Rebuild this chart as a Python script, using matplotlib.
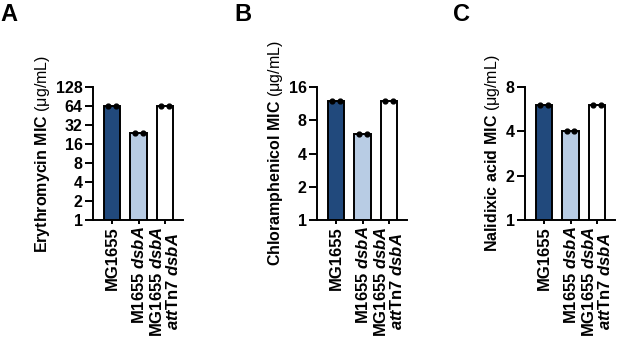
import matplotlib
matplotlib.use("Agg")
import matplotlib.pyplot as plt
import numpy as np

plt.rcParams['font.family'] = ['Liberation Sans', 'DejaVu Sans']
plt.rcParams['mathtext.fontset'] = 'custom'
plt.rcParams['mathtext.rm'] = 'Liberation Sans:bold'
plt.rcParams['mathtext.it'] = 'Liberation Sans:bold:italic'
plt.rcParams['mathtext.bf'] = 'Liberation Sans:bold'

# ---- data ----
strains = ["MG1655",
           "M1655 $\\mathit{dsbA}$",
           "MG1655 $\\mathit{dsbA}$\n$\\mathit{att}$Tn7 $\\mathit{dsbA}$"]
ery_reps = [[64, 64], [24, 24], [64, 64]]
chl_reps = [[12, 12], [6, 6], [12, 12]]
nal_reps = [[6, 6], [4, 4], [6, 6]]
ery_ticks = [1, 2, 4, 8, 16, 32, 64, 128]
chl_ticks = [1, 2, 4, 8, 16]
nal_ticks = [1, 2, 4, 8]
ylabels = ["$\\mathbf{Erythromycin\\ MIC}$ (\u03bcg/mL)",
           "$\\mathbf{Chloramphenicol\\ MIC}$ (\u03bcg/mL)",
           "$\\mathbf{Nalidixic\\ acid\\ MIC}$ (\u03bcg/mL)"]
panel_letters = ["A", "B", "C"]
bar_colors = ["#21497c", "#b8cce4", "#ffffff"]

W, H = 617, 337
fig = plt.figure(figsize=(W / 100, H / 100), dpi=100)

lefts = [93, 317, 525]
letter_x = [0, 234, 453]
ax_w = 90
ax_bottom = 220
ax_top = 87

datasets = [(ery_reps, ery_ticks), (chl_reps, chl_ticks), (nal_reps, nal_ticks)]

for i, ((reps, ticks), ylab) in enumerate(zip(datasets, ylabels)):
    ax = fig.add_axes([lefts[i] / W, 1 - ax_bottom / H, ax_w / W, (ax_bottom - ax_top) / H])
    x = np.arange(len(strains))
    means = [np.mean(r) for r in reps]
    ax.bar(x, means, width=0.63, color=bar_colors, edgecolor='black', linewidth=1.4,
           bottom=0, zorder=2)
    for xi, r in zip(x, reps):
        offs = np.linspace(-0.15, 0.15, len(r))
        ax.scatter(xi + offs, r, s=12, color='black', zorder=3, clip_on=False)
    ax.set_yscale('log', base=2)
    ax.set_ylim(ticks[0], ticks[-1])
    ax.set_yticks(ticks)
    ax.set_yticklabels([str(t) for t in ticks])
    ax.yaxis.set_minor_locator(matplotlib.ticker.NullLocator())
    ax.set_xlim(-0.72, 2.68)
    ax.set_xticks(x)
    ax.set_xticklabels(strains, rotation=90, ha='center', va='top',
                       multialignment='center', fontweight='bold', fontsize=12,
                       linespacing=0.95)
    for s in ['top', 'right']:
        ax.spines[s].set_visible(False)
    for s in ['left', 'bottom']:
        ax.spines[s].set_linewidth(1.4)
    ax.tick_params(axis='y', direction='out', length=6, width=1.4, pad=1.5)
    ax.tick_params(axis='x', direction='out', length=3, width=1.4, pad=1.5)
    for t in ax.get_yticklabels():
        t.set_fontweight('bold')
        t.set_fontsize(11.5)
    ax.set_ylabel(ylab, fontsize=11.5, labelpad=2.5)
    fig.text(letter_x[i] / W, 1 - 3 / H, panel_letters[i], fontsize=17,
             fontweight='bold', ha='left', va='top')

fig.savefig("out.png", dpi=100)
